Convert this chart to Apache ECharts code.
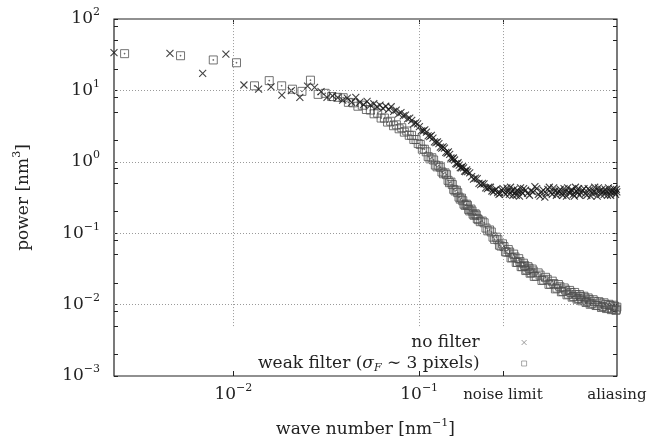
<!DOCTYPE html>
<html>
<head>
<meta charset="utf-8">
<script src="https://cdn.jsdelivr.net/npm/echarts@6/dist/echarts.min.js"></script>
<style>
html, body { margin: 0; padding: 0; background: #fff; }
#chart { width: 660px; height: 442px; }
</style>
</head>
<body>
<div id="chart"></div>
<script>
// power spectrum: wave number [nm^-1] / power [nm^3]
let noFilterK = [
  0.00228, 0.00456, 0.00684, 0.00912, 0.0114, 0.01368, 0.01596, 0.01824, 0.02052, 0.0228,
  0.02508, 0.02736, 0.02964, 0.03192, 0.0342, 0.03648, 0.03876, 0.04104, 0.04332, 0.0456,
  0.04788, 0.05016, 0.05244, 0.05472, 0.057, 0.05928, 0.06156, 0.06384, 0.06612, 0.0684,
  0.07068, 0.07296, 0.07524, 0.07752, 0.0798, 0.08208, 0.08436, 0.08664, 0.08892, 0.0912,
  0.09576, 0.1003, 0.1049, 0.1094, 0.114, 0.1186, 0.1231, 0.1277, 0.1322, 0.1368,
  0.1414, 0.1459, 0.1505, 0.155, 0.1596, 0.1642, 0.1687, 0.1733, 0.1778, 0.1824,
  0.1915, 0.2006, 0.2098, 0.2189, 0.228, 0.2371, 0.2462, 0.2554, 0.2645, 0.2736,
  0.2827, 0.2918, 0.301, 0.3101, 0.3192, 0.3283, 0.3374, 0.3466, 0.3557, 0.3648,
  0.383, 0.4013, 0.4195, 0.4378, 0.456, 0.4742, 0.4925, 0.5107, 0.529, 0.5472,
  0.5654, 0.5837, 0.6019, 0.6202, 0.6384, 0.6566, 0.6749, 0.6931, 0.7114, 0.7296,
  0.757, 0.7843, 0.8117, 0.839, 0.8664, 0.8938, 0.9211, 0.9485, 0.9758, 1.003,
  1.031, 1.058, 1.085, 1.113, 1.14, 1.158,
  0.09348, 0.09804, 0.1026, 0.1072, 0.1117, 0.1163, 0.1208, 0.1254, 0.13, 0.1345,
  0.1391, 0.1436, 0.1482, 0.1528, 0.1573, 0.1619, 0.1664, 0.171, 0.1756, 0.1801,
  0.187, 0.1961, 0.2052, 0.2143, 0.2234, 0.2326, 0.2417, 0.2508, 0.2599, 0.269,
  0.2782, 0.2873, 0.2964, 0.3055, 0.3146, 0.3238, 0.3329, 0.342, 0.3511, 0.3602,
  0.3739, 0.3922, 0.4104, 0.4286, 0.4469, 0.4651, 0.4834, 0.5016, 0.5198, 0.5381,
  0.5563, 0.5746, 0.5928, 0.611, 0.6293, 0.6475, 0.6658, 0.684, 0.7022, 0.7205,
  0.7433, 0.7706, 0.798, 0.8254, 0.8527, 0.8801, 0.9074, 0.9348, 0.9622, 0.9895,
  1.017, 1.044, 1.072, 1.099, 1.126, 1.151
];
let noFilterP = [
  33.7, 33.0, 17.3, 32.3, 11.9, 10.4, 11.2, 8.6, 9.9, 8.0,
  11.5, 11.0, 9.6, 8.0, 8.4, 7.9, 7.3, 7.8, 6.8, 8.0,
  6.8, 6.3, 7.0, 6.2, 6.5, 5.9, 6.2, 5.6, 6.0, 5.4,
  5.9, 5.1, 5.3, 4.7, 4.9, 4.4, 4.5, 4.0, 4.1, 3.8,
  3.5, 3.1, 2.7, 2.6, 2.25, 2.15, 1.85, 1.8, 1.55, 1.55,
  1.32, 1.27, 1.1, 1.06, 0.93, 0.9, 0.82, 0.82, 0.73, 0.73,
  0.62, 0.59, 0.5, 0.5, 0.43, 0.44, 0.39, 0.4, 0.37, 0.36,
  0.42, 0.35, 0.39, 0.44, 0.34, 0.37, 0.40, 0.33, 0.38, 0.42,
  0.36, 0.39, 0.45, 0.35, 0.38, 0.32, 0.41, 0.37, 0.43, 0.34,
  0.39, 0.36, 0.42, 0.33, 0.38, 0.40, 0.35, 0.44, 0.37, 0.34,
  0.40, 0.36, 0.42, 0.33, 0.39, 0.37, 0.43, 0.35, 0.38, 0.41,
  0.34, 0.39, 0.37, 0.42, 0.35, 0.38,
  3.4, 3.4, 2.7, 2.8, 2.3, 2.35, 1.9, 1.9, 1.6, 1.62,
  1.36, 1.38, 1.13, 1.13, 0.94, 0.97, 0.83, 0.86, 0.74, 0.77,
  0.7, 0.57, 0.58, 0.48, 0.49, 0.42, 0.44, 0.38, 0.41, 0.35,
  0.40, 0.37, 0.43, 0.35, 0.39, 0.41, 0.34, 0.38, 0.43, 0.36,
  0.40, 0.34, 0.38, 0.42, 0.33, 0.40, 0.36, 0.44, 0.35, 0.39,
  0.37, 0.41, 0.34, 0.38, 0.43, 0.36, 0.40, 0.33, 0.39, 0.42,
  0.37, 0.42, 0.34, 0.40, 0.36, 0.44, 0.33, 0.39, 0.41, 0.35,
  0.38, 0.43, 0.34, 0.40, 0.37, 0.41
];
let weakK = [
  0.0026, 0.0052, 0.0078, 0.0104, 0.013, 0.0156, 0.0182, 0.0208, 0.0234, 0.026,
  0.0286, 0.0312, 0.0338, 0.0364, 0.039, 0.0416, 0.0442, 0.0468, 0.0494, 0.052,
  0.0546, 0.0572, 0.0598, 0.0624, 0.065, 0.0676, 0.0702, 0.0728, 0.0754, 0.078,
  0.0806, 0.0832, 0.0858, 0.0884, 0.091, 0.0936, 0.0962, 0.0988, 0.1014, 0.104,
  0.1092, 0.1144, 0.1196, 0.1248, 0.13, 0.1352, 0.1404, 0.1456, 0.1508, 0.156,
  0.1612, 0.1664, 0.1716, 0.1768, 0.182, 0.1872, 0.1924, 0.1976, 0.2028, 0.208,
  0.2184, 0.2288, 0.2392, 0.2496, 0.26, 0.2704, 0.2808, 0.2912, 0.3016, 0.312,
  0.3224, 0.3328, 0.3432, 0.3536, 0.364, 0.3744, 0.3848, 0.3952, 0.4056, 0.416,
  0.4368, 0.4576, 0.4784, 0.4992, 0.52, 0.5408, 0.5616, 0.5824, 0.6032, 0.624,
  0.6448, 0.6656, 0.6864, 0.7072, 0.728, 0.7488, 0.7696, 0.7904, 0.8112, 0.832,
  0.8632, 0.8944, 0.9256, 0.9568, 0.988, 1.019, 1.05, 1.082, 1.113, 1.144, 1.158,
  0.1066, 0.1118, 0.117, 0.1222, 0.1274, 0.1326, 0.1378, 0.143, 0.1482, 0.1534,
  0.1586, 0.1638, 0.169, 0.1742, 0.1794, 0.1846, 0.1898, 0.195, 0.2002, 0.2054,
  0.2132, 0.2236, 0.234, 0.2444, 0.2548, 0.2652, 0.2756, 0.286, 0.2964, 0.3068,
  0.3172, 0.3276, 0.338, 0.3484, 0.3588, 0.3692, 0.3796, 0.39, 0.4004, 0.4108,
  0.4264, 0.4472, 0.468, 0.4888, 0.5096, 0.5304, 0.5512, 0.572, 0.5928, 0.6136,
  0.6344, 0.6552, 0.676, 0.6968, 0.7176, 0.7384, 0.7592, 0.78, 0.8008, 0.8216,
  0.8476, 0.8788, 0.91, 0.9412, 0.9724, 1.004, 1.035, 1.066, 1.097, 1.128, 1.152
];
let weakP = [
  32.7, 30.6, 26.7, 24.4, 11.6, 13.7, 11.6, 10.4, 9.7, 13.9,
  8.8, 9.1, 8.2, 8.0, 7.9, 6.8, 6.7, 6.0, 6.2, 5.4,
  5.3, 4.7, 4.8, 4.1, 4.1, 3.6, 3.7, 3.2, 3.3, 2.9,
  3.0, 2.6, 2.7, 2.35, 2.35, 2.05, 2.05, 1.8, 1.75, 1.5,
  1.38, 1.1, 1.06, 0.85, 0.84, 0.68, 0.66, 0.51, 0.48, 0.39,
  0.37, 0.3, 0.285, 0.245, 0.245, 0.205, 0.205, 0.178, 0.18, 0.155,
  0.148, 0.118, 0.111, 0.088, 0.088, 0.068, 0.071, 0.055, 0.059, 0.045,
  0.051, 0.039, 0.044, 0.034, 0.038, 0.030, 0.034, 0.0275, 0.0315, 0.0248,
  0.0278, 0.0218, 0.0241, 0.0192, 0.0213, 0.0166, 0.0191, 0.0151, 0.0171, 0.0137,
  0.0158, 0.0127, 0.0148, 0.0119, 0.0138, 0.0113, 0.0131, 0.0107, 0.0124, 0.0101,
  0.0117, 0.0097, 0.011, 0.0091, 0.0106, 0.0088, 0.0101, 0.0085, 0.0098, 0.0083, 0.0092,
  1.5, 1.18, 1.14, 0.9, 0.88, 0.72, 0.7, 0.55, 0.52, 0.41,
  0.4, 0.32, 0.31, 0.255, 0.255, 0.215, 0.218, 0.185, 0.187, 0.16,
  0.145, 0.14, 0.108, 0.104, 0.082, 0.081, 0.066, 0.065, 0.054, 0.0545,
  0.0455, 0.0465, 0.039, 0.0402, 0.034, 0.0354, 0.0307, 0.0323, 0.028, 0.0296,
  0.025, 0.0259, 0.022, 0.0226, 0.0193, 0.0197, 0.017, 0.0178, 0.0153, 0.016,
  0.014, 0.0148, 0.013, 0.0138, 0.0122, 0.013, 0.0116, 0.0124, 0.011, 0.0117,
  0.0103, 0.0111, 0.0098, 0.0105, 0.0094, 0.01, 0.009, 0.0097, 0.0087, 0.0094, 0.0086
];

let xTickValues = [0.01, 0.1, 0.2823, 1.159];
let xTickLabels = ['10^−2', '10^−1', 'noise limit', 'aliasing'];
let yTickValues = [0.001, 0.01, 0.1, 1, 10, 100];
let yTickLabels = ['10^−3', '10^−2', '10^−1', '10^0', '10^1', '10^2'];
let yMinorTicks = [0.002, 0.005, 0.008, 0.02, 0.05, 0.08, 0.2, 0.5, 0.8, 2, 5, 8, 20, 50, 80];
let gridLinesX = [0.01, 0.1, 0.2823];
let gridLinesY = [0.01, 0.1, 1, 10];
let seriesNames = ['no filter', 'weak filter'];
let legendLabels = ['no filter', 'weak filter ({i|σ}{sub|F} ∼ 3 pixels)'];

const FONT = 'DejaVu Serif';
const INK = '#222';
const crossPath = 'path://M0,0L10,10M10,0L0,10';
const boxPath = 'path://M0,0H10V10H0ZM4.5,4.5H5.5V5.5H4.5Z';

const labelRich = {
  b: { fontFamily: FONT, fontSize: 17, lineHeight: 24, color: INK },
  s: { fontFamily: FONT, fontSize: 11, lineHeight: 12, verticalAlign: 'top', color: INK },
  w: { fontFamily: FONT, fontSize: 15, lineHeight: 24, color: INK }
};

function toRich(s) {
  let p = s.split('^');
  if (p.length > 1) return '{b|' + p[0] + '}{s|' + p[1] + '}';
  return '{w|' + s + '}';
}

function pick(values, labels, v) {
  let best = 0;
  for (let i = 1; i < values.length; i++) {
    if (Math.abs(Math.log(v / values[i])) < Math.abs(Math.log(v / values[best]))) best = i;
  }
  return toRich(labels[best]);
}

function pairs(k, p) {
  return k.map((x, i) => [x, p[i]]);
}

let chart = echarts.init(document.getElementById('chart'), null, { renderer: 'canvas' });

let xBase = {
  type: 'log', logBase: 10, min: 0.00228, max: 1.16,
  axisLine: { show: false },
  splitLine: { show: false },
  axisTick: { inside: true, length: 5, customValues: gridLinesX, lineStyle: { color: INK } }
};
let yBase = {
  type: 'log', logBase: 10, min: 0.001, max: 100,
  axisLine: { show: false },
  splitLine: { show: false },
  axisTick: { inside: true, length: 4, customValues: yTickValues.concat(yMinorTicks), lineStyle: { color: INK } }
};

let option = {
  animation: false,
  textStyle: { fontFamily: FONT },
  grid: {
    left: 114, right: 43, top: 19, bottom: 66,
    show: true, borderColor: INK, borderWidth: 1.2, backgroundColor: 'transparent',
    outerBoundsMode: 'none'
  },
  legend: {
    data: [
      { name: 'no filter', icon: crossPath, itemStyle: { color: 'rgba(0,0,0,0)', borderColor: '#666', borderWidth: 0.8 } },
      { name: 'weak filter', icon: 'path://M0,0H10V10H0Z', itemStyle: { color: 'rgba(0,0,0,0)', borderColor: '#777', borderWidth: 0.8 } }
    ],
    orient: 'vertical',
    align: 'right',
    right: 128,
    top: 327,
    itemWidth: 5,
    itemHeight: 5,
    itemGap: 0,
    selectedMode: false,
    formatter: function (name) {
      return legendLabels[seriesNames.indexOf(name)];
    },
    textStyle: {
      fontFamily: FONT, fontSize: 17, color: INK, lineHeight: 21,
      padding: [0, 37, 0, 0],
      rich: {
        i: { fontFamily: FONT, fontSize: 17, fontStyle: 'italic', color: INK, lineHeight: 21 },
        sub: { fontFamily: FONT, fontSize: 11, fontStyle: 'italic', color: INK, lineHeight: 14, verticalAlign: 'bottom' }
      }
    }
  },
  xAxis: [
    Object.assign({}, xBase, {
      position: 'bottom',
      axisLabel: {
        customValues: xTickValues, margin: 7,
        formatter: v => pick(xTickValues, xTickLabels, v),
        rich: labelRich
      },
      name: '{n|wave number [nm}{s|−1}{n|]}',
      nameLocation: 'middle',
      nameGap: 42,
      nameTextStyle: {
        rich: {
          n: { fontFamily: FONT, fontSize: 17, lineHeight: 24, color: INK },
          s: { fontFamily: FONT, fontSize: 11, lineHeight: 12, verticalAlign: 'top', color: INK }
        }
      }
    }),
    Object.assign({}, xBase, { position: 'top', axisLabel: { show: false } })
  ],
  yAxis: [
    Object.assign({}, yBase, {
      position: 'left',
      axisLabel: {
        customValues: yTickValues, margin: 14,
        formatter: v => pick(yTickValues, yTickLabels, v),
        rich: labelRich
      },
      name: '{n|power [nm}{s|3}{n|]}',
      nameLocation: 'middle',
      nameRotate: 90,
      nameGap: 78,
      nameTextStyle: {
        rich: {
          n: { fontFamily: FONT, fontSize: 17, lineHeight: 24, color: INK },
          s: { fontFamily: FONT, fontSize: 11, lineHeight: 12, verticalAlign: 'top', color: INK }
        }
      }
    }),
    Object.assign({}, yBase, { position: 'right', axisLabel: { show: false } })
  ],
  series: [
    {
      // dotted grid; the vertical lines stop above the key
      type: 'scatter',
      name: 'grid',
      data: [],
      silent: true,
      z: 1,
      markLine: {
        silent: true,
        symbol: 'none',
        label: { show: false },
        lineStyle: { type: [1, 2], color: '#9a9a9a', width: 1 },
        data: gridLinesY.map(v => ({ yAxis: v })).concat(
          gridLinesX.map(v => [{ coord: [v, 0.005] }, { coord: [v, 100] }])
        )
      }
    },
    {
      type: 'scatter',
      name: 'weak filter',
      data: pairs(weakK, weakP),
      symbol: boxPath,
      symbolSize: 8,
      silent: true,
      z: 2,
      itemStyle: { color: 'rgba(0,0,0,0)', borderColor: '#505050', borderWidth: 1 }
    },
    {
      type: 'scatter',
      name: 'no filter',
      data: pairs(noFilterK, noFilterP),
      symbol: crossPath,
      symbolSize: 7,
      silent: true,
      z: 3,
      itemStyle: { color: 'rgba(0,0,0,0)', borderColor: '#151515', borderWidth: 1.1 }
    }
  ]
};

chart.setOption(option);
</script>
</body>
</html>
